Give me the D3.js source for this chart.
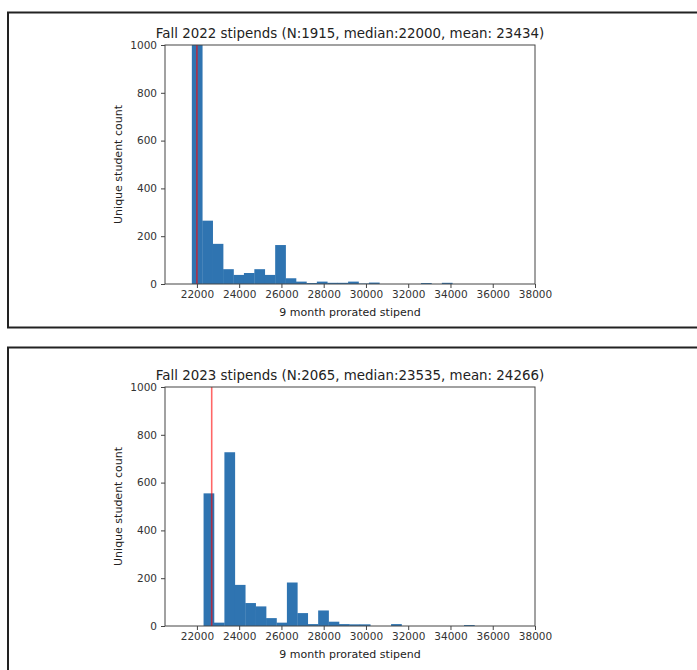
<!DOCTYPE html>
<html>
<head>
<meta charset="utf-8">
<script src="https://cdn.jsdelivr.net/npm/d3@7"></script>
<style>
  body { margin: 0; background: #fff; }
  svg { display: block; font-family: "DejaVu Sans", sans-serif; }
</style>
</head>
<body>
<svg id="canvas" width="697" height="670"></svg>
<script>
// tick labels
var xTicks = [22000, 24000, 26000, 28000, 30000, 32000, 34000, 36000, 38000];
var yTicks = [0, 200, 400, 600, 800, 1000];

// histogram counts per bin
var titles = ["Fall 2022 stipends (N:1915, median:22000, mean: 23434)",
              "Fall 2023 stipends (N:2065, median:23535, mean: 24266)"];
var binStart = [21760, 22315];
var binWidth = 493;
var counts2022 = [1005, 265, 168, 62, 38, 46, 62, 38, 163, 24, 10, 4, 10, 5, 5, 10, 2, 6, 0, 0, 0, 0, 4, 0, 5];
var counts2023 = [555, 14, 727, 172, 96, 82, 33, 14, 182, 54, 8, 65, 18, 8, 7, 7, 0, 0, 8, 0, 0, 0, 0, 0, 0, 4];
var redLine = [22000, 22700];

var svg = d3.select("#canvas");

// panel frames (screenshot borders)
svg.append("rect").attr("x", 8).attr("y", 12.5).attr("width", 720).attr("height", 315)
    .attr("fill", "none").attr("stroke", "#222").attr("stroke-width", 2);
svg.append("rect").attr("x", 8).attr("y", 347.5).attr("width", 720).attr("height", 340)
    .attr("fill", "none").attr("stroke", "#222").attr("stroke-width", 2);

var margin = { left: 165, top: 45 };
var width = 370, height = 239;

function drawPanel(top, idx, counts) {
    var g = svg.append("g").attr("transform", "translate(" + margin.left + "," + top + ")");

    var x = d3.scaleLinear().domain([20490, 38000]).range([0, width]);
    var y = d3.scaleLinear().domain([0, 1000]).range([height, 0]);

    var bins = counts.map(function (c, i) {
        return { x0: binStart[idx] + i * binWidth, x1: binStart[idx] + (i + 1) * binWidth, n: c };
    }).filter(function (d) { return d.n > 0; });

    g.append("clipPath").attr("id", "clip" + idx)
        .append("rect").attr("width", width).attr("height", height);

    var plot = g.append("g").attr("clip-path", "url(#clip" + idx + ")");
    plot.selectAll("rect")
        .data(bins)
        .enter()
        .append("rect")
        .attr("x", function (d) { return x(d.x0); })
        .attr("y", function (d) { return y(d.n); })
        .attr("width", function (d) { return x(d.x1) - x(d.x0) + 0.3; })
        .attr("height", function (d) { return height - y(d.n); })
        .attr("fill", "#2f74b1");

    plot.append("line")
        .attr("x1", x(redLine[idx])).attr("x2", x(redLine[idx]))
        .attr("y1", 0).attr("y2", height)
        .attr("stroke", "red").attr("stroke-opacity", 0.6).attr("stroke-width", 1.6);

    // frame
    g.append("rect").attr("width", width).attr("height", height)
        .attr("fill", "none").attr("stroke", "#444").attr("stroke-width", 1);

    var xAxis = g.append("g").attr("transform", "translate(0," + height + ")")
        .call(d3.axisBottom(x).tickValues(xTicks).tickSize(4).tickFormat(d3.format("d")));
    xAxis.select(".domain").remove();
    xAxis.selectAll("line").attr("stroke", "#444");
    xAxis.selectAll("text").attr("font-size", "10.5px").attr("fill", "#333")
        .attr("font-family", "DejaVu Sans").attr("dy", "0.71em").attr("y", 7);

    var yAxis = g.append("g")
        .call(d3.axisLeft(y).tickValues(yTicks).tickSize(4).tickFormat(d3.format("d")));
    yAxis.select(".domain").remove();
    yAxis.selectAll("line").attr("stroke", "#444");
    yAxis.selectAll("text").attr("font-size", "10.5px").attr("fill", "#333")
        .attr("font-family", "DejaVu Sans").attr("x", -8);

    g.append("text")
        .attr("x", width / 2).attr("y", -7)
        .attr("text-anchor", "middle")
        .attr("font-size", "13.4px").attr("fill", "#222")
        .text(titles[idx]);

    g.append("text")
        .attr("x", width / 2).attr("y", height + 32)
        .attr("text-anchor", "middle")
        .attr("font-size", "11px").attr("fill", "#222")
        .text("9 month prorated stipend");

    g.append("text")
        .attr("transform", "rotate(-90)")
        .attr("x", -height / 2).attr("y", -43)
        .attr("text-anchor", "middle")
        .attr("font-size", "11px").attr("fill", "#222")
        .text("Unique student count");
}

drawPanel(45, 0, counts2022);
drawPanel(387, 1, counts2023);
</script>
</body>
</html>
